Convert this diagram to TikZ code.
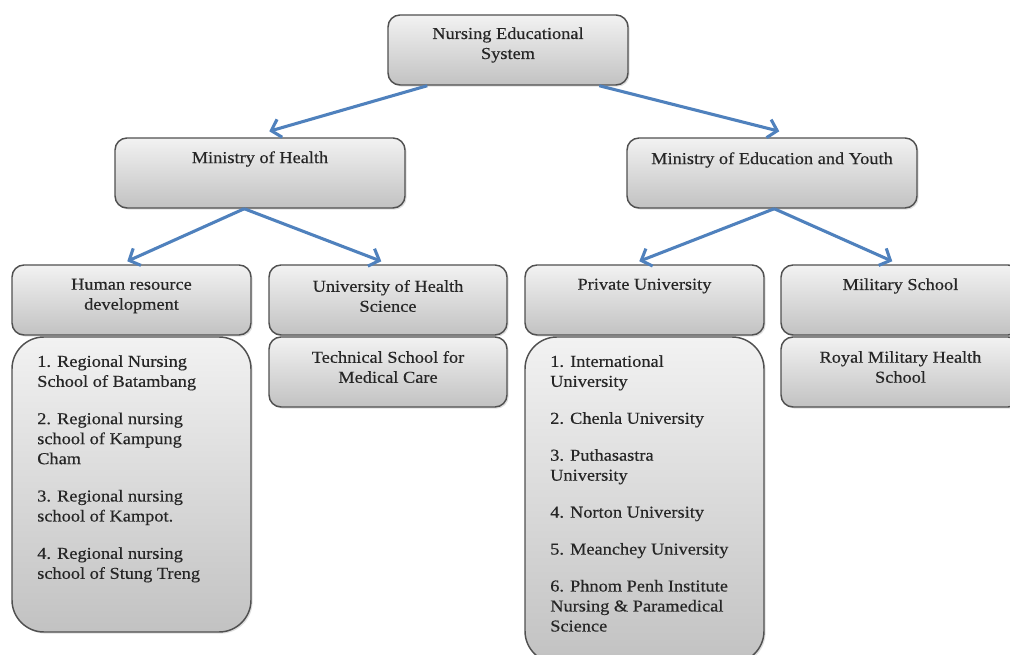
\documentclass[tikz,border=0pt]{standalone}
\usepackage{fontspec}
\setmainfont[FakeStretch=1.1,FakeBold=0.4]{Liberation Serif}
\usetikzlibrary{arrows.meta,calc,shadows}
\definecolor{arrowblue}{HTML}{4F81BD}
\definecolor{boxtop}{HTML}{F2F2F2}
\definecolor{boxbot}{HTML}{C2C2C2}
\definecolor{boxline}{HTML}{505050}
\tikzset{
  box/.style={draw=boxline, line width=1.1pt, rounded corners=9pt,
    top color=boxtop, bottom color=boxbot, inner sep=0pt,
    drop shadow={shadow xshift=1.2pt,shadow yshift=-1.2pt,opacity=0.25}},
  listbox/.style={box, rounded corners=24pt},
  txt/.style={align=center, inner sep=0pt, text=black!85,
    font=\fontsize{12.5pt}{15pt}\selectfont},
  listtxt/.style={align=left, inner sep=0pt, text=black!85, anchor=north west,
    font=\fontsize{12.5pt}{15pt}\selectfont},
  conn/.style={draw=arrowblue, line width=2.3pt,
    -{Straight Barb[length=6.5pt,width=14pt]}}
}
\begin{document}
\begin{tikzpicture}[x=0.75pt,y=-0.75pt]
\clip (0,0) rectangle (1010,655);
\fill[white] (0,0) rectangle (1010,655);
% boxes
\node[box, minimum width=180pt, minimum height=52.5pt] (top) at (508,50) {};
\node[box, minimum width=217.5pt, minimum height=52.5pt] (moh) at (260,173) {};
\node[box, minimum width=217.5pt, minimum height=52.5pt] (moey) at (772,173) {};
\node[box, minimum width=179.25pt, minimum height=52.5pt] (hr) at (131.5,300) {};
\node[box, minimum width=178.5pt, minimum height=52.5pt] (uhs) at (388,300) {};
\node[box, minimum width=179.25pt, minimum height=52.5pt] (pu) at (644.5,300) {};
\node[box, minimum width=179.25pt, minimum height=52.5pt] (mil) at (900.5,300) {};
\node[box, minimum width=178.5pt, minimum height=52.5pt] (tech) at (388,372) {};
\node[box, minimum width=179.25pt, minimum height=52.5pt] (roy) at (900.5,372) {};
\node[listbox, minimum width=179.25pt, minimum height=221.25pt] (hrl) at (131.5,484.5) {};
\node[listbox, minimum width=179.25pt, minimum height=244.5pt] (pul) at (644.5,500) {};
% texts
\node[txt] (topt) at (508,45) {Nursing Educational\\System};
\node[txt] (moht) at (260,159) {Ministry of Health};
\node[txt] (moeyt) at (772,160) {Ministry of Education and Youth};
\node[txt] (hrt) at (131.5,296) {Human resource\\development};
\node[txt] (uhst) at (388,296) {University of Health\\Science};
\node[txt] (put) at (644.5,286) {Private University};
\node[txt] (milt) at (900.5,286) {Military School};
\node[txt] (techt) at (388,367) {Technical School for\\Medical Care};
\node[txt] (royt) at (900.5,367) {Royal Military Health\\School};
\node[listtxt] (hrlt) at (37,355) {1. Regional Nursing\\School of Batambang\\[13pt]
2. Regional nursing\\school of Kampung\\Cham\\[13pt]
3. Regional nursing\\school of Kampot.\\[13pt]
4. Regional nursing\\school of Stung Treng};
\node[listtxt] (pult) at (550,355) {1. International\\University\\[12.7pt]
2. Chenla University\\[12.7pt]
3. Puthasastra\\University\\[12.7pt]
4. Norton University\\[12.7pt]
5. Meanchey University\\[12.7pt]
6. Phnom Penh Institute\\Nursing \& Paramedical\\Science};
% connectors
\draw[conn] ($(top.south west)+(40,0)$) -- ($(moh.north west)+(155,-6)$);
\draw[conn] ($(top.south west)+(212,0)$) -- ($(moey.north west)+(153,-6)$);
\draw[conn] ($(moh.south west)+(130,0)$) -- ($(hr.north west)+(116,-3)$);
\draw[conn] ($(moh.south west)+(130,0)$) -- ($(uhs.north west)+(113,-3)$);
\draw[conn] ($(moey.south west)+(148,0)$) -- ($(pu.north west)+(115,-3)$);
\draw[conn] ($(moey.south west)+(148,0)$) -- ($(mil.north west)+(112,-3)$);
\end{tikzpicture}
\end{document}
